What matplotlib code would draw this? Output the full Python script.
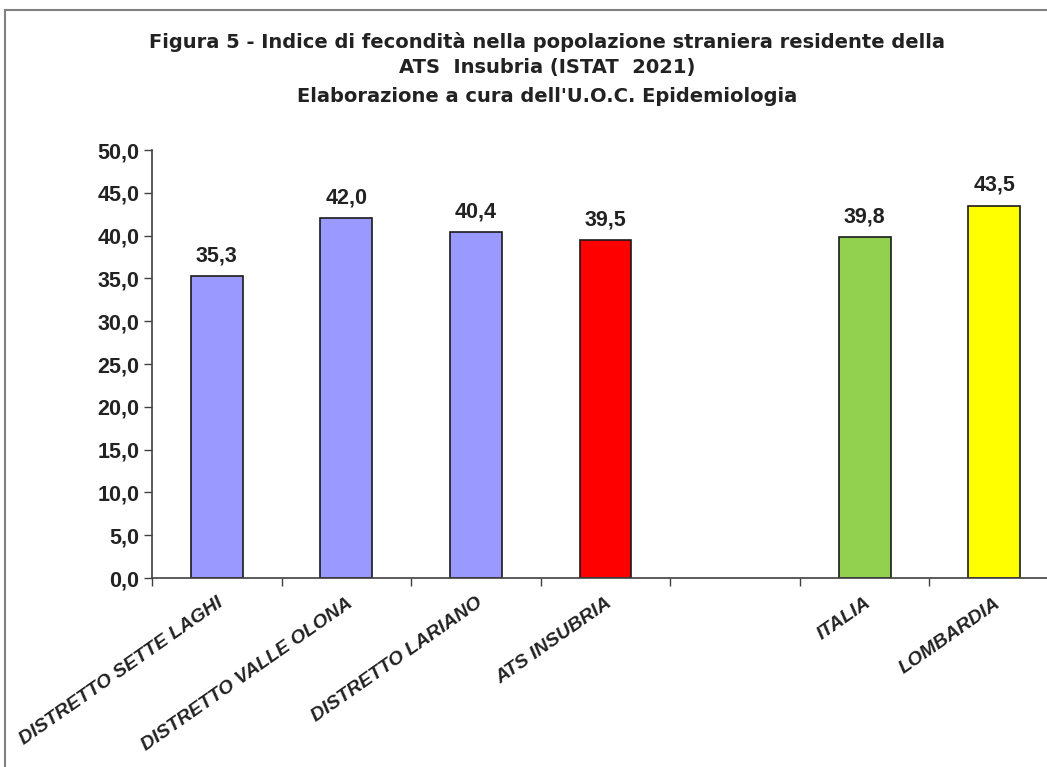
import numpy as np
import matplotlib.pyplot as plt
from matplotlib.patches import Rectangle
from matplotlib.ticker import FuncFormatter

plt.rcParams['font.family'] = ['Liberation Sans', 'DejaVu Sans']

# dati (slot vuoto tra ATS INSUBRIA e ITALIA)
categories = ['DISTRETTO SETTE LAGHI', 'DISTRETTO VALLE OLONA', 'DISTRETTO LARIANO',
              'ATS INSUBRIA', '', 'ITALIA', 'LOMBARDIA']
values = [35.3, 42.0, 40.4, 39.5, None, 39.8, 43.5]
bar_colors = ['#9999FF', '#9999FF', '#9999FF', '#FF0000', None, '#92D050', '#FFFF00']
y_ticks = [0, 5, 10, 15, 20, 25, 30, 35, 40, 45, 50]

fig = plt.figure(figsize=(10.47, 7.67), dpi=100)
fig.patches.append(Rectangle((5/1047, -0.1), 1.2, 1.1 - 10/767, transform=fig.transFigure,
                             fill=False, edgecolor='#808080', linewidth=1.5))

ax = fig.add_axes([152/1047, 1 - 578/767, (1059 - 152)/1047, (578 - 150)/767])

for i, (v, c) in enumerate(zip(values, bar_colors)):
    if v is None:
        continue
    ax.bar(i, v, width=0.4, color=c, edgecolor='#1a1a1a', linewidth=1.2, zorder=2)
    ax.annotate(f'{v:.1f}'.replace('.', ','), (i, v), xytext=(0, 7), textcoords='offset points',
                ha='center', va='bottom', fontsize=15.5, fontweight='bold', color='#222222')

ax.set_xlim(-0.5, len(categories) - 0.5)
ax.set_ylim(0, 50)
ax.set_yticks(y_ticks)
ax.yaxis.set_major_formatter(FuncFormatter(lambda y, p: f'{y:.1f}'.replace('.', ',')))

ax.set_xticks(np.arange(len(categories) + 1) - 0.5)
ax.set_xticklabels([])
ax.set_xticks(np.arange(len(categories)), minor=True)
ax.set_xticklabels(categories, minor=True, rotation=35, ha='right', rotation_mode='anchor',
                   fontsize=14, fontweight='bold', style='italic', color='#222222')
ax.tick_params(axis='x', which='minor', length=0, pad=12)
ax.tick_params(axis='x', which='major', length=6, width=1, color='#404040', direction='out')
ax.tick_params(axis='y', length=6, width=1, color='#404040', labelsize=15.5, pad=3,
               labelcolor='#222222')
for lab in ax.get_yticklabels():
    lab.set_fontweight('bold')

for s in ['top', 'right']:
    ax.spines[s].set_visible(False)
for s in ['left', 'bottom']:
    ax.spines[s].set_color('#404040')
    ax.spines[s].set_linewidth(1.2)

title_lines = ["Figura 5 - Indice di fecondità nella popolazione straniera residente della",
               "ATS  Insubria (ISTAT  2021)",
               "Elaborazione a cura dell'U.O.C. Epidemiologia"]
for txt, y in zip(title_lines, [42, 68, 97]):
    fig.text(547/1047, 1 - y/767, txt, ha='center', va='center', fontsize=14,
             fontweight='bold', color='#222222', family='DejaVu Sans')

fig.savefig('out.png', dpi=100)
